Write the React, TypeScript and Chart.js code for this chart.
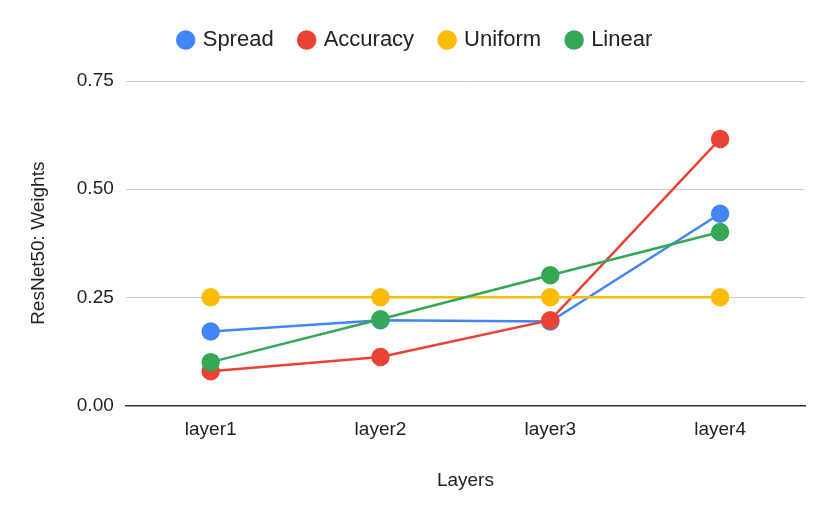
import React, { useEffect, useRef } from "react";
import { Chart, registerables } from "chart.js";

Chart.register(...registerables);

const categories = ["layer1", "layer2", "layer3", "layer4"];
const spread = [0.171, 0.197, 0.194, 0.443];
const accuracy = [0.079, 0.112, 0.197, 0.616];
const uniform = [0.25, 0.25, 0.25, 0.25];
const linear = [0.1, 0.199, 0.301, 0.401];
const yTicks = [0, 0.25, 0.5, 0.75];

const FONT = "Arial, 'Liberation Sans', sans-serif";

const legendSpacer = {
  id: "legendSpacer",
  beforeInit(chart: any) {
    const orig = chart.legend.fit;
    chart.legend.fit = function () {
      orig.call(this);
      this.height += 20;
    };
  },
};

export default function App() {
  const ref = useRef<HTMLCanvasElement | null>(null);
  useEffect(() => {
    if (!ref.current) return;
    const mk = (label: string, data: number[], color: string, order: number) => ({
      label,
      data,
      borderColor: color,
      backgroundColor: color,
      pointBackgroundColor: color,
      pointBorderColor: color,
      pointRadius: 8,
      pointHoverRadius: 8,
      borderWidth: 2.5,
      tension: 0,
      order,
    });
    const chart = new Chart(ref.current, {
      type: "line",
      data: {
        labels: categories,
        datasets: [
          mk("Spread", spread, "#4285F4", 3),
          mk("Accuracy", accuracy, "#EA4335", 2),
          mk("Uniform", uniform, "#FBBC04", 1),
          mk("Linear", linear, "#34A853", 0),
        ],
      },
      plugins: [legendSpacer],
      options: {
        animation: false,
        responsive: true,
        maintainAspectRatio: false,
        layout: { padding: { left: 27, right: 25, top: 2, bottom: 22 } },
        plugins: {
          legend: {
            position: "top",
            labels: {
              usePointStyle: true,
              pointStyle: "circle",
              boxWidth: 12,
              boxHeight: 12,
              padding: 27,
              color: "#222",
              font: { family: FONT, size: 22 },
              sort: (a: any, b: any) => a.datasetIndex - b.datasetIndex,
            },
          },
          tooltip: { enabled: false },
        },
        scales: {
          x: {
            offset: true,
            grid: { display: false, drawTicks: false },
            border: { display: true, color: "#333", width: 1.5 },
            ticks: { color: "#222", font: { family: FONT, size: 19 }, padding: 13 },
            title: {
              display: true,
              text: "Layers",
              color: "#222",
              font: { family: FONT, size: 19 },
              padding: { top: 15, bottom: 0 },
            },
          },
          y: {
            min: 0,
            max: 0.75,
            afterBuildTicks: (axis: any) => {
              axis.ticks = yTicks.map((v) => ({ value: v }));
            },
            grid: { color: "#cccccc", drawTicks: false, lineWidth: 1 },
            border: { display: false },
            ticks: {
              color: "#222",
              font: { family: FONT, size: 19 },
              padding: 12,
              callback: (v: any) => Number(v).toFixed(2),
            },
            title: {
              display: true,
              text: "ResNet50: Weights",
              color: "#222",
              font: { family: FONT, size: 19 },
              padding: { top: 0, bottom: 15 },
            },
          },
        },
      },
    });
    return () => chart.destroy();
  }, []);
  return (
    <div style={{ position: "fixed", left: 0, top: 0, width: 830, height: 514, background: "#fff" }}>
      <canvas ref={ref} />
    </div>
  );
}
